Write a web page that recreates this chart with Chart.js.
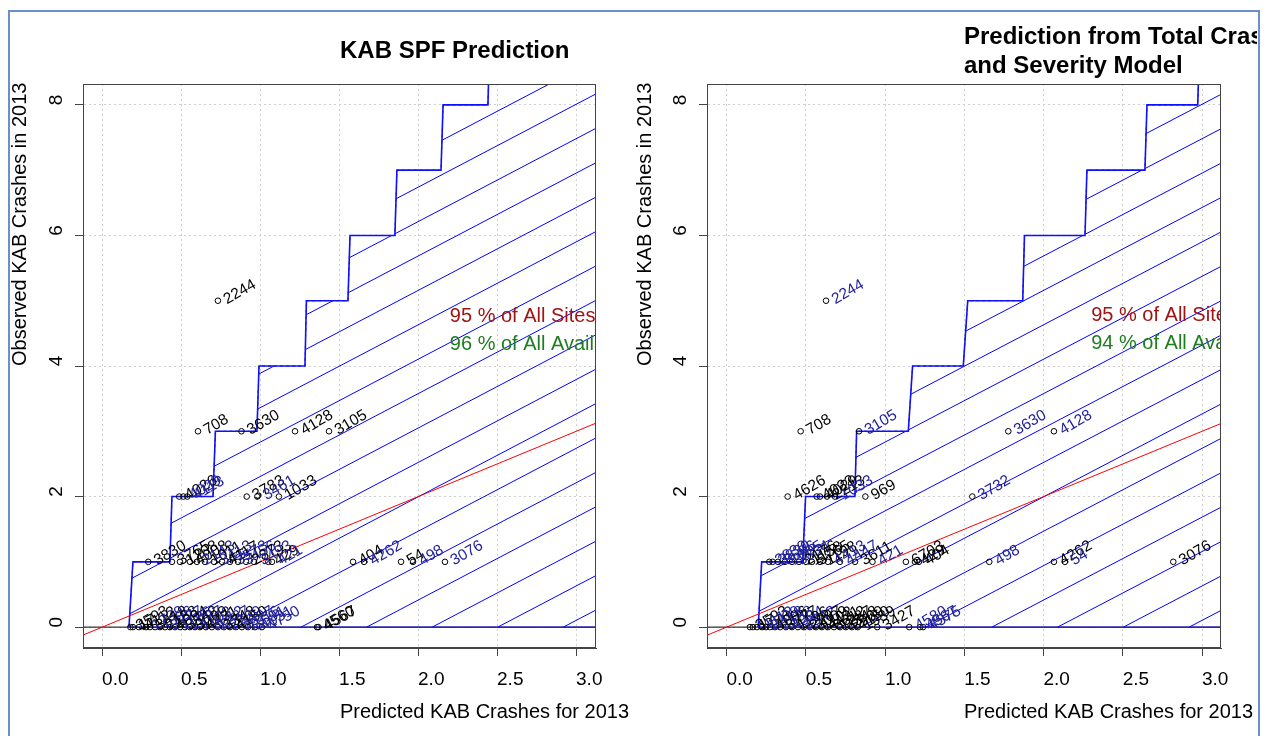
<!DOCTYPE html>
<html>
<head>
<meta charset="utf-8">
<script src="https://cdn.jsdelivr.net/npm/chart.js@4.4.1/dist/chart.umd.min.js"></script>
<style>
  html, body { margin: 0; padding: 0; background: #fff; }
  #page { position: relative; width: 1267px; height: 736px; overflow: hidden; font-family: "Liberation Sans", Arial, sans-serif; color: #000; }
  canvas { position: absolute; top: 0; }
  #chartL { left: 0; }
  #chartR { left: 640px; }
  #clip { position: absolute; left: 0; top: 0; width: 1257px; height: 736px; overflow: hidden; pointer-events: none; }
  .ttl { position: absolute; font-weight: bold; font-size: 24px; line-height: 24px; white-space: nowrap; }
  .xt { position: absolute; font-size: 20px; line-height: 20px; white-space: nowrap; }
  .yt { position: absolute; font-size: 20px; line-height: 20px; white-space: nowrap; transform-origin: 0 0; transform: rotate(-90deg); }
  #frame { position: absolute; left: 8px; top: 10px; width: 1248px; height: 800px; border: 2px solid #6b8fc9; border-bottom: none; }
</style>
</head>
<body>
<div id="page">
  <canvas id="chartL" width="640" height="736"></canvas>
  <canvas id="chartR" width="627" height="736"></canvas>
  <div id="clip">
    <div class="ttl" style="left:340px;top:38px">KAB SPF Prediction</div>
    <div class="ttl" style="left:964px;top:24px">Prediction from Total Crashes</div>
    <div class="ttl" style="left:964px;top:53px">and Severity Model</div>
    <div class="xt" style="left:340px;top:701px">Predicted KAB Crashes for 2013</div>
    <div class="xt" style="left:964px;top:701px">Predicted KAB Crashes for 2013</div>
    <div class="yt" style="left:9px;top:366px">Observed KAB Crashes in 2013</div>
    <div class="yt" style="left:634px;top:366px">Observed KAB Crashes in 2013</div>
  </div>
  <div id="frame"></div>
</div>
<script>
// ---- axes ----
const X_TICKS = [0, 0.5, 1, 1.5, 2, 2.5, 3];
const X_TICK_LABELS = ['0.0', '0.5', '1.0', '1.5', '2.0', '2.5', '3.0'];
const Y_TICKS = [0, 2, 4, 6, 8];
const Y_TICK_LABELS = ['0', '2', '4', '6', '8'];
const Y_RANGE = [-0.32, 8.32];
const LEFT_X_RANGE = [-0.122, 3.125];
const RIGHT_X_RANGE = [-0.124, 3.119];

// ---- left panel: KAB SPF prediction ----
const LEFT_X = [
  0.178, 0.194, 0.232, 0.277, 0.302, 0.334, 0.365, 0.397, 0.428, 0.460, 0.492, 0.523, 0.555, 0.587,
  0.618, 0.656, 0.694, 0.732, 0.770, 0.808, 0.846, 0.884, 0.922, 0.966, 1.011, 1.359, 1.368,
  0.291, 0.441, 0.492, 0.555, 0.599, 0.650, 0.707, 0.758, 0.808, 0.859, 0.910, 0.960, 1.051, 1.074,
  1.587, 1.657, 1.891, 1.967, 2.169,
  0.487, 0.513, 0.538, 0.914, 0.981, 1.118,
  0.606, 0.881, 1.220, 1.435,
  0.732
];
const LEFT_Y = [
  0, 0, 0, 0, 0, 0, 0, 0, 0, 0, 0, 0, 0, 0, 0, 0, 0, 0, 0, 0, 0, 0, 0, 0, 0, 0, 0,
  1, 1, 1, 1, 1, 1, 1, 1, 1, 1, 1, 1, 1, 1, 1, 1, 1, 1, 1,
  2, 2, 2, 2, 2, 2,
  3, 3, 3, 3,
  5
];
const LEFT_IDS = [
  '3593', '17', '4112', '1739', '3418', '4006', '2158', '3777', '4094', '1196', '3542', '2287', '3009', '1102',
  '4431', '3612', '1287', '3348', '2969', '4150', '3827', '1016', '3691', '4031', '4750', '4560', '4567',
  '3830', '3765', '1208', '4008', '2143', '1011', '3413', '4117', '3573', '3456', '2873', '3493', '429', '421',
  '404', '4262', '54', '498', '3076',
  '4026', '4029', '4113', '3783', '3461', '1033',
  '708', '3630', '4128', '3105',
  '2244'
];
const LEFT_COLORS = [
  'k', 'k', 'k', 'b', 'k', 'b', 'k', 'b', 'k', 'b', 'k', 'b', 'k', 'b',
  'k', 'b', 'b', 'k', 'b', 'k', 'b', 'b', 'b', 'b', 'b', 'k', 'k',
  'k', 'k', 'k', 'k', 'b', 'k', 'b', 'k', 'b', 'b', 'k', 'b', 'k', 'b',
  'k', 'b', 'k', 'b', 'b',
  'k', 'b', 'b', 'k', 'b', 'k',
  'k', 'k', 'k', 'k',
  'k'
];
const LEFT_STAIR_X = [0.169, 0.194, 0.428, 0.441, 0.701, 0.716, 0.979, 0.992, 1.283, 1.292, 1.555, 1.568, 1.852, 1.865, 2.144, 2.157, 2.441, 2.452];
const LEFT_STAIR_Y = [0, 1, 1, 2, 2, 3, 3, 4, 4, 5, 5, 6, 6, 7, 7, 8, 8, 9];
const LEFT_NOTES = ['95 % of All Sites', '96 % of All Available Sites'];
const LEFT_NOTE_X = 2.20;
const LEFT_NOTE_Y = [4.76, 4.33];

// ---- right panel: total crashes and severity model ----
const RIGHT_X = [
  0.147, 0.166, 0.191, 0.223, 0.248, 0.273, 0.305, 0.337, 0.374, 0.412, 0.450, 0.488, 0.525,
  0.563, 0.601, 0.639, 0.677, 0.715, 0.752, 0.790, 0.827, 0.950, 1.152, 1.220, 1.239,
  0.269, 0.290, 0.324, 0.368, 0.412, 0.456, 0.500, 0.538, 0.589, 0.639, 0.715, 0.810, 0.920,
  1.131, 1.188, 1.213, 1.657, 2.065, 2.134, 2.818,
  0.385, 0.568, 0.589, 0.633, 0.683, 0.875, 1.550,
  0.467, 0.835, 1.777, 2.065,
  0.627
];
const RIGHT_Y = [
  0, 0, 0, 0, 0, 0, 0, 0, 0, 0, 0, 0, 0, 0, 0, 0, 0, 0, 0, 0, 0, 0, 0, 0, 0,
  1, 1, 1, 1, 1, 1, 1, 1, 1, 1, 1, 1, 1, 1, 1, 1, 1, 1, 1, 1,
  2, 2, 2, 2, 2, 2, 2,
  3, 3, 3, 3,
  5
];
const RIGHT_IDS = [
  '3593', '17', '4112', '1739', '3418', '4006', '2158', '3777', '4094', '1196', '3542', '2287', '3009',
  '1102', '4431', '3612', '1287', '3348', '2969', '4150', '1939', '3427', '4580', '4567', '4575',
  '2830', '3830', '3506', '1005', '3834', '2176', '1158', '3765', '1198', '4413', '4447', '3611', '421',
  '6703', '429', '404', '498', '4262', '54', '3076',
  '4626', '4023', '4029', '2213', '1033', '969', '3732',
  '708', '3105', '3630', '4128',
  '2244'
];
const RIGHT_COLORS = [
  'k', 'k', 'b', 'b', 'b', 'k', 'b', 'k', 'b', 'k', 'b', 'k', 'k',
  'k', 'k', 'k', 'k', 'k', 'k', 'k', 'k', 'k', 'b', 'b', 'b',
  'b', 'b', 'b', 'b', 'b', 'k', 'k', 'k', 'k', 'b', 'b', 'k', 'b',
  'k', 'k', 'k', 'b', 'k', 'b', 'k',
  'k', 'k', 'k', 'k', 'b', 'k', 'b',
  'k', 'b', 'b', 'b',
  'b'
];
const RIGHT_STAIR_X = [0.199, 0.221, 0.480, 0.498, 0.809, 0.820, 1.146, 1.173, 1.493, 1.521, 1.868, 1.879, 2.261, 2.273, 2.639, 2.652, 2.972, 2.985];
const RIGHT_STAIR_Y = [0, 1, 1, 2, 2, 3, 3, 4, 4, 5, 5, 6, 6, 7, 7, 8, 8, 9];
const RIGHT_NOTES = ['95 % of All Sites', '94 % of All Available Sites'];
const RIGHT_NOTE_X = 2.30;
const RIGHT_NOTE_Y = [4.77, 4.34];

// hatching of the interval region (parallel lines, crossing y = 0 at these x)
const HATCH_SLOPE = 1.27;
const HATCH_X0 = [2.918, 2.503, 2.088, 1.673, 1.258, 0.843, 0.428, 0.013, -0.402, -0.817,
  -1.232, -1.647, -2.062, -2.477, -2.892, -3.307, -3.722, -4.137, -4.552];

const NOTE_COLORS = ['#a01414', '#1e7d1e'];
const LABEL_BLUE = '#22229a';
const FONT = '"Liberation Sans", Arial, sans-serif';

Chart.defaults.font.family = FONT;
Chart.defaults.color = '#000';

// clip each hatch line against the polygon under the staircase
function hatchSegments(stairX, stairY) {
  const poly = stairX.map((x, i) => [x, stairY[i]]);
  const last = poly[poly.length - 1];
  poly.push([last[0], 9.5], [10, 9.5], [10, 0]);
  const segs = [];
  HATCH_X0.forEach(x0 => {
    const f = p => p[1] - HATCH_SLOPE * (p[0] - x0);
    const xs = [];
    for (let i = 0; i < poly.length; i++) {
      const a = poly[i];
      const b = poly[(i + 1) % poly.length];
      const fa = f(a), fb = f(b);
      if ((fa > 0) !== (fb > 0)) xs.push(a[0] + (b[0] - a[0]) * fa / (fa - fb));
    }
    xs.sort((p, q) => p - q);
    for (let k = 0; k + 1 < xs.length; k += 2) {
      segs.push([{ x: xs[k], y: HATCH_SLOPE * (xs[k] - x0) }, { x: xs[k + 1], y: HATCH_SLOPE * (xs[k + 1] - x0) }]);
    }
  });
  return segs;
}

function lineSet(data, color, width, order, dash) {
  return {
    data: data, showLine: true, borderColor: color, borderWidth: width, borderDash: dash || [],
    pointRadius: 0, fill: false, tension: 0, order: order, clip: 0
  };
}

function makePlugin(panel) {
  return {
    id: 'siteLabels',
    afterDatasetsDraw(chart) {
      const { ctx, chartArea: a, scales } = chart;
      ctx.save();
      ctx.beginPath();
      ctx.rect(a.left, a.top, a.right - a.left, a.bottom - a.top);
      ctx.clip();
      ctx.textAlign = 'left';
      ctx.textBaseline = 'middle';
      ctx.font = '20px ' + FONT;
      panel.notes.forEach((t, i) => {
        ctx.fillStyle = NOTE_COLORS[i];
        ctx.fillText(t, scales.x.getPixelForValue(panel.noteX), scales.y.getPixelForValue(panel.noteY[i]));
      });
      ctx.font = '15.5px ' + FONT;
      chart.getDatasetMeta(0).data.forEach((pt, i) => {
        ctx.save();
        ctx.translate(pt.x + 7, pt.y);
        ctx.rotate(-Math.PI / 6);
        ctx.fillStyle = panel.colors[i] === 'b' ? LABEL_BLUE : '#000';
        ctx.fillText(panel.ids[i], 0, 0);
        ctx.restore();
      });
      ctx.restore();
      // plot box
      ctx.save();
      ctx.strokeStyle = '#444';
      ctx.lineWidth = 1;
      ctx.strokeRect(Math.round(a.left) + 0.5, Math.round(a.top) + 0.5,
        Math.round(a.right - a.left) - 1, Math.round(a.bottom - a.top) - 1);
      ctx.restore();
    }
  };
}

function drawPanel(canvasId, panel, yWidth, padRight) {
  const [xMin, xMax] = panel.xRange;
  const datasets = [];
  datasets.push({
    data: panel.x.map((x, i) => ({ x: x, y: panel.y[i] })),
    showLine: false, pointRadius: 2.8, pointBorderWidth: 1, pointBorderColor: '#000',
    pointBackgroundColor: 'rgba(0,0,0,0)', order: 0, clip: 0
  });
  datasets.push(lineSet([{ x: xMin, y: xMin }, { x: xMax, y: xMax }], '#ff0000', 1, 1));
  const stair = panel.stairX.map((x, i) => ({ x: x, y: panel.stairY[i] }));
  datasets.push(lineSet(stair, '#1010ff', 1.6, 2));
  datasets.push(lineSet(stair, '#10107a', 1, 2, [3, 3]));
  hatchSegments(panel.stairX, panel.stairY).forEach(seg => datasets.push(lineSet(seg, '#0000ff', 1, 3)));
  datasets.push(lineSet([{ x: panel.stairX[0], y: 0 }, { x: xMax, y: 0 }], '#0000ff', 1, 4));
  datasets.push(lineSet([{ x: xMin, y: 0 }, { x: xMax, y: 0 }], '#000', 1, 5));

  new Chart(document.getElementById(canvasId), {
    type: 'scatter',
    data: { datasets: datasets },
    plugins: [makePlugin(panel)],
    options: {
      responsive: false,
      animation: false,
      events: [],
      layout: { padding: { left: 0, top: 84, right: padRight, bottom: 0 } },
      plugins: { legend: { display: false }, tooltip: { enabled: false } },
      scales: {
        x: {
          type: 'linear', min: xMin, max: xMax,
          afterBuildTicks: s => { s.ticks = X_TICKS.map(v => ({ value: v })); },
          afterFit: s => { s.height = 88; },
          ticks: {
            autoSkip: false, maxRotation: 0, padding: 12, labelOffset: 13,
            font: { size: 19 }, color: '#000',
            callback: (v, i) => X_TICK_LABELS[i]
          },
          grid: { color: '#cfcfcf', tickColor: '#444', tickLength: 8, lineWidth: 1 },
          border: { color: '#444', width: 1, dash: [2, 3] }
        },
        y: {
          type: 'linear', min: Y_RANGE[0], max: Y_RANGE[1],
          afterBuildTicks: s => { s.ticks = Y_TICKS.map(v => ({ value: v })); },
          afterFit: s => { s.width = yWidth; },
          ticks: {
            autoSkip: false, minRotation: 90, maxRotation: 90, crossAlign: 'center',
            padding: 13, labelOffset: -5, font: { size: 19 }, color: '#000',
            callback: (v, i) => Y_TICK_LABELS[i]
          },
          grid: { color: '#cfcfcf', tickColor: '#444', tickLength: 8, lineWidth: 1 },
          border: { color: '#444', width: 1, dash: [2, 3] }
        }
      }
    }
  });
}

drawPanel('chartL', {
  xRange: LEFT_X_RANGE, x: LEFT_X, y: LEFT_Y, ids: LEFT_IDS, colors: LEFT_COLORS,
  stairX: LEFT_STAIR_X, stairY: LEFT_STAIR_Y,
  notes: LEFT_NOTES, noteX: LEFT_NOTE_X, noteY: LEFT_NOTE_Y
}, 83, 44);

drawPanel('chartR', {
  xRange: RIGHT_X_RANGE, x: RIGHT_X, y: RIGHT_Y, ids: RIGHT_IDS, colors: RIGHT_COLORS,
  stairX: RIGHT_STAIR_X, stairY: RIGHT_STAIR_Y,
  notes: RIGHT_NOTES, noteX: RIGHT_NOTE_X, noteY: RIGHT_NOTE_Y
}, 67, 46);
</script>
</body>
</html>
